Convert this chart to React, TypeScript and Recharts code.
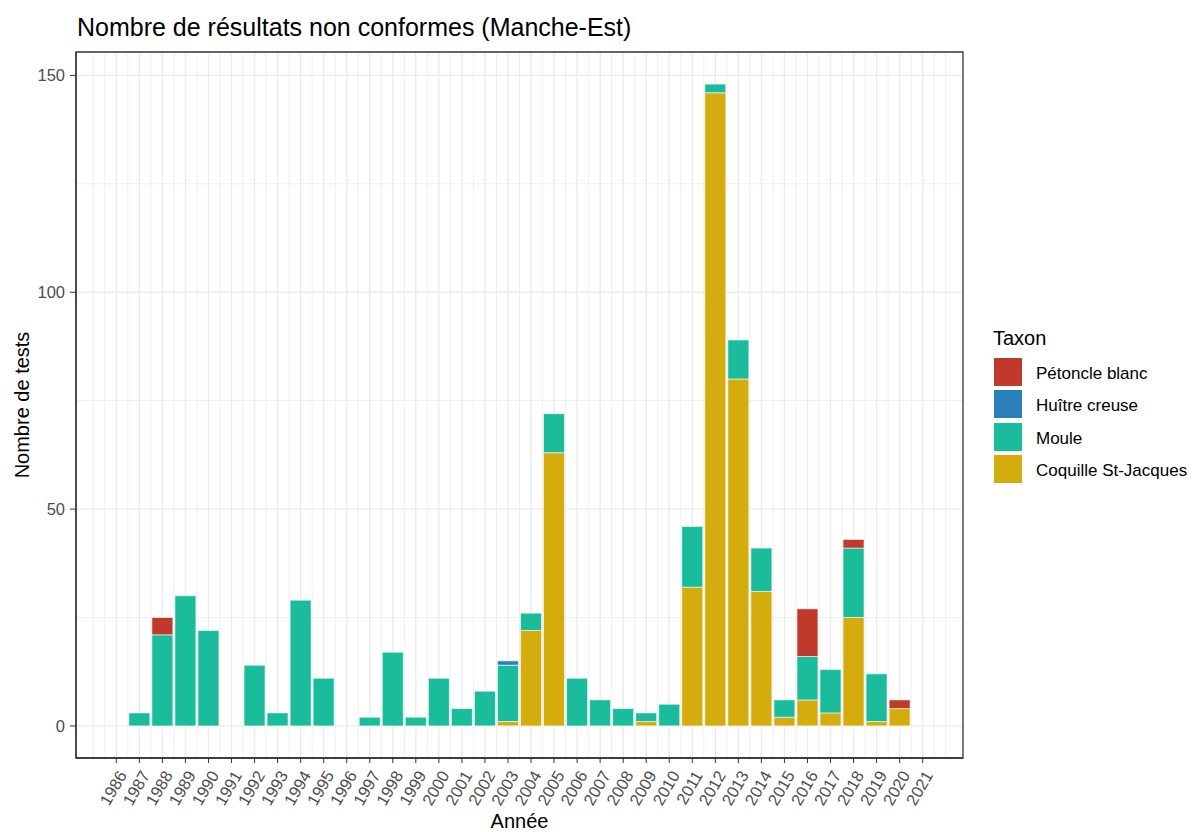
import React from "react";
import { BarChart, Bar, XAxis, YAxis, CartesianGrid, ReferenceArea } from "recharts";

const years = [1987, 1988, 1989, 1990, 1992, 1993, 1994, 1995, 1997, 1998, 1999, 2000, 2001, 2002, 2003, 2004, 2005, 2006, 2007, 2008, 2009, 2010, 2011, 2012, 2013, 2014, 2015, 2016, 2017, 2018, 2019, 2020];
const coquille = [0, 0, 0, 0, 0, 0, 0, 0, 0, 0, 0, 0, 0, 0, 1, 22, 63, 0, 0, 0, 1, 0, 32, 146, 80, 31, 2, 6, 3, 25, 1, 4];
const moule = [3, 21, 30, 22, 14, 3, 29, 11, 2, 17, 2, 11, 4, 8, 13, 4, 9, 11, 6, 4, 2, 5, 14, 2, 9, 10, 4, 10, 10, 16, 11, 0];
const huitre = [0, 0, 0, 0, 0, 0, 0, 0, 0, 0, 0, 0, 0, 0, 1, 0, 0, 0, 0, 0, 0, 0, 0, 0, 0, 0, 0, 0, 0, 0, 0, 0];
const petoncle = [0, 4, 0, 0, 0, 0, 0, 0, 0, 0, 0, 0, 0, 0, 0, 0, 0, 0, 0, 0, 0, 0, 0, 0, 0, 0, 0, 11, 0, 2, 0, 2];

const xTicks = [1986, 1987, 1988, 1989, 1990, 1991, 1992, 1993, 1994, 1995, 1996, 1997, 1998, 1999, 2000, 2001, 2002, 2003, 2004, 2005, 2006, 2007, 2008, 2009, 2010, 2011, 2012, 2013, 2014, 2015, 2016, 2017, 2018, 2019, 2020, 2021];
const xMinor = [1985, 1985.5, 1986.5, 1987.5, 1988.5, 1989.5, 1990.5, 1991.5, 1992.5, 1993.5, 1994.5, 1995.5, 1996.5, 1997.5, 1998.5, 1999.5, 2000.5, 2001.5, 2002.5, 2003.5, 2004.5, 2005.5, 2006.5, 2007.5, 2008.5, 2009.5, 2010.5, 2011.5, 2012.5, 2013.5, 2014.5, 2015.5, 2016.5, 2017.5, 2018.5, 2019.5, 2020.5, 2021.5, 2022];
const yTicks = [0, 50, 100, 150];
const yMinor = [25, 75, 125];
const xDomain = [1984.25, 2022.75];
const yDomain = [-7.4, 155.4];

const series = [
  { key: "petoncle", name: "Pétoncle blanc", color: "#C0392B" },
  { key: "huitre", name: "Huître creuse", color: "#2980B9" },
  { key: "moule", name: "Moule", color: "#1ABC9C" },
  { key: "coquille", name: "Coquille St-Jacques", color: "#D4AC0D" },
];

const data = years.map((year, i) => ({
  year,
  coquille: coquille[i],
  moule: moule[i],
  huitre: huitre[i],
  petoncle: petoncle[i],
}));

const FONT = "'Liberation Sans', Arial, sans-serif";

const XTick = (props: any) => {
  const { x, y, payload } = props;
  const px = x + 11;
  const py = y + 10;
  return (
    <text
      x={px}
      y={py}
      transform={`rotate(-60, ${px}, ${py})`}
      textAnchor="end"
      fill="#4D4D4D"
      fontSize={16.5}
      fontFamily={FONT}
    >
      {payload.value}
    </text>
  );
};

const LegendBlock = () => (
  <div style={{ position: "absolute", left: 993, top: 326, fontFamily: FONT, color: "#000" }}>
    <div style={{ fontSize: 20, lineHeight: "24px", marginBottom: 6 }}>Taxon</div>
    {series.map((s) => (
      <div key={s.key} style={{ display: "flex", alignItems: "center", height: 32.3 }}>
        <div style={{ width: 30, height: 30, background: s.color, border: "1px solid #fff", boxSizing: "border-box" }} />
        <span style={{ fontSize: 17, marginLeft: 13, whiteSpace: "nowrap", position: "relative", top: 2 }}>{s.name}</span>
      </div>
    ))}
  </div>
);

export default function App() {
  const stackOrder = ["coquille", "moule", "huitre", "petoncle"];
  return (
    <div style={{ position: "absolute", left: 0, top: 0, width: 1192, height: 832, background: "#fff" }}>
      <div
        style={{
          position: "absolute",
          left: 77,
          top: 15,
          fontSize: 25,
          lineHeight: "24px",
          fontFamily: FONT,
          color: "#000",
          whiteSpace: "nowrap",
        }}
      >
        Nombre de résultats non conformes (Manche-Est)
      </div>
      <div style={{ position: "absolute", left: 0, top: 0 }}>
        <BarChart
          width={1192}
          height={832}
          data={data}
          margin={{ top: 52, right: 229, bottom: 0, left: 0 }}
        >
          <CartesianGrid
            stroke="#EBEBEB"
            strokeWidth={0.8}
            horizontalValues={yMinor}
            verticalValues={xMinor}
          />
          <CartesianGrid
            stroke="#EBEBEB"
            strokeWidth={1.4}
            horizontalValues={yTicks}
            verticalValues={xTicks}
          />
          <XAxis
            dataKey="year"
            type="number"
            domain={xDomain}
            allowDataOverflow
            ticks={xTicks}
            interval={0}
            tick={<XTick />}
            tickSize={5}
            tickMargin={2}
            tickLine={{ stroke: "#333333" }}
            axisLine={{ stroke: "#333333", strokeWidth: 1.3 }}
            height={74}
            label={{
              value: "Année",
              position: "insideBottom",
              offset: 4,
              fill: "#000",
              fontSize: 20,
              fontFamily: FONT,
            }}
          />
          <YAxis
            type="number"
            domain={yDomain}
            allowDataOverflow
            ticks={yTicks}
            interval={0}
            width={76}
            tickSize={6}
            tickMargin={5}
            tick={{ fill: "#4D4D4D", fontSize: 16.5, fontFamily: FONT }}
            tickLine={{ stroke: "#333333" }}
            axisLine={{ stroke: "#333333", strokeWidth: 1.3 }}
            label={{
              value: "Nombre de tests",
              angle: -90,
              position: "insideLeft",
              offset: 22,
              style: { textAnchor: "middle" },
              fill: "#000",
              fontSize: 20,
              fontFamily: FONT,
            }}
          />
          {stackOrder.map((k) => {
            const s = series.find((x) => x.key === k)!;
            return (
              <Bar
                key={k}
                dataKey={k}
                name={s.name}
                stackId="a"
                fill={s.color}
                stroke="#ffffff"
                strokeWidth={0.6}
                barSize={21}
                isAnimationActive={false}
              />
            );
          })}
          <ReferenceArea
            x1={xDomain[0]}
            x2={xDomain[1]}
            y1={yDomain[0]}
            y2={yDomain[1]}
            fill="none"
            fillOpacity={0}
            stroke="#333333"
            strokeWidth={1.3}
            ifOverflow="visible"
          />
        </BarChart>
      </div>
      <LegendBlock />
    </div>
  );
}
